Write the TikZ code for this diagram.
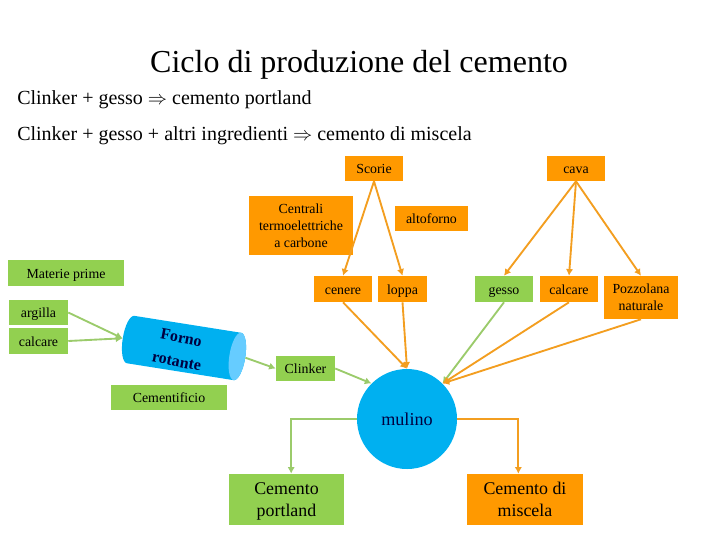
\documentclass[tikz,border=0pt]{standalone}
\usepackage{fontspec}
\setmainfont{Liberation Serif}
\usetikzlibrary{arrows.meta}
\usepackage{xcolor}
\definecolor{cemorange}{RGB}{255,153,0}
\definecolor{cemgreen}{RGB}{146,208,80}
\definecolor{cemblue}{RGB}{0,176,240}
\definecolor{cemlight}{RGB}{102,204,255}
\definecolor{cemnavy}{RGB}{0,0,64}
\definecolor{linegreen}{RGB}{155,203,107}
\definecolor{lineorange}{RGB}{243,158,32}
\tikzset{
    box/.style={
        fill=#1,align=center,inner sep=0pt,font=\fontsize{10.4}{12.75}\selectfont
    },
    box/.default=cemorange,
    onebox/.style={
        box=#1,text height=9.5pt,text depth=1.5pt
    },
    onebox/.default=cemorange,
    bigbox/.style={
        box=#1,font=\fontsize{13.4}{16.5}\selectfont,
        text height=29pt,text depth=3pt
    },
    flow/.style={
        -{Latex[length=5pt,width=5.5pt]},line width=1.4pt,draw=#1
    },
    flow/.default=lineorange
}

\begin{document}
\begin{tikzpicture}[x=0.75pt,y=-0.75pt]
\useasboundingbox (0,0) rectangle (720,540);

% title and the two formulas
\node (title) at (359,65) {\fontsize{24}{28}\selectfont Ciclo di produzione del cemento};
\node[anchor=west,inner sep=0pt] (lineone) at (17,100)
{\fontsize{15}{18}\selectfont Clinker + gesso $\Rightarrow$ cemento portland};
\node[anchor=west,inner sep=0pt] (linetwo) at (17,136)
{\fontsize{15}{18}\selectfont Clinker + gesso + altri ingredienti $\Rightarrow$ cemento di miscela};

% orange sources
\node[onebox,minimum width=43.5pt,minimum height=18.75pt] (scorie) at (374,168.5) {Scorie};
\node[onebox,minimum width=43.5pt,minimum height=18.75pt] (cava) at (576,168.5) {cava};
\node[box,minimum width=78pt,minimum height=44.25pt] (centrali) at (301,225.5)
{Centrali\\termoelettriche\\a carbone};
\node[onebox,minimum width=54.75pt,minimum height=18.75pt] (altoforno) at (431.5,218.5) {altoforno};

% materials for the mill
\node[onebox,minimum width=43.5pt,minimum height=19.5pt] (cenere) at (343,289) {cenere};
\node[onebox,minimum width=36.75pt,minimum height=19.5pt] (loppa) at (402.5,289) {loppa};
\node[onebox=cemgreen,minimum width=43.5pt,minimum height=19.5pt] (gesso) at (504,289) {gesso};
\node[onebox,minimum width=43.5pt,minimum height=19.5pt] (calcareb) at (569,289) {calcare};
\node[box,minimum width=55.5pt,minimum height=32.25pt] (pozzolana) at (641,297.5)
{Pozzolana\\naturale};

% left side
\node[onebox=cemgreen,minimum width=87pt,minimum height=19.5pt] (materie) at (66,273) {Materie prime};
\node[onebox=cemgreen,minimum width=44.25pt,minimum height=18.75pt] (argilla) at (38.5,312.5) {argilla};
\node[onebox=cemgreen,minimum width=44.25pt,minimum height=19.5pt] (calcarea) at (38.5,341) {calcare};
\node[onebox=cemgreen,minimum width=87pt,minimum height=18.75pt] (cementificio) at (169,397.5) {Cementificio};
\node[onebox=cemgreen,minimum width=44.25pt,minimum height=18.75pt] (clinker) at (305.5,368.5) {Clinker};

% kiln
\begin{scope}[shift={(184,348)},rotate=-9]
\fill[cemblue] (-54,-24) -- (54,-24) arc[start angle=90,end angle=-90,x radius=6pt,y radius=18pt]
-- (-54,24) arc[start angle=270,end angle=90,x radius=6pt,y radius=18pt] -- cycle;
\fill[cemlight] (54,0) ellipse[x radius=6pt,y radius=18pt];
\end{scope}
\node[rotate=-9,minimum width=93pt,minimum height=36pt,inner sep=0pt] (forno) at (184,348) {};
\node[rotate=-11,align=center,text=cemnavy,font=\fontsize{12}{18}\selectfont\bfseries,inner sep=0pt]
(fornotext) at (179,349.5) {Forno\\rotante};

% mill and products
\node[circle,fill=cemblue,minimum size=75pt,inner sep=0pt,text=cemnavy,
font=\fontsize{13.6}{16}\selectfont] (mulino) at (407,419) {mulino};
\node[bigbox=cemgreen,minimum width=86.25pt,minimum height=38.25pt] (portland) at (286.5,499.5)
{Cemento\\portland};
\node[bigbox=cemorange,minimum width=87pt,minimum height=38.25pt] (miscela) at (525,499.5)
{Cemento di\\miscela};

% connectors
\draw[flow] (scorie.south) -- (cenere.north);
\draw[flow] (scorie.south) -- (loppa.north);
\draw[flow] (cava.south) -- (gesso.north);
\draw[flow] (cava.south) -- (calcareb.north);
\draw[flow] (cava.south) -- (pozzolana.north);
\draw[flow] (cenere.south) -- (mulino.north);
\draw[flow] (loppa.south) -- (mulino.north);
\draw[flow=linegreen] (gesso.south) -- (mulino.north east);
\draw[flow] (calcareb.south) -- (mulino.north east);
\draw[flow] (pozzolana.south) -- (mulino.north east);
\draw[flow=linegreen] (argilla.east) -- (forno.west);
\draw[flow=linegreen] (calcarea.east) -- (forno.west);
\draw[flow=linegreen] (forno.east) -- (clinker.west);
\draw[flow=linegreen] (clinker.east) -- (mulino.north west);
\draw[flow=linegreen] (mulino.west) -| ([xshift=3.5pt]portland.north);
\draw[flow] (mulino.east) -| ([xshift=-5pt]miscela.north);

\end{tikzpicture}
\end{document}
